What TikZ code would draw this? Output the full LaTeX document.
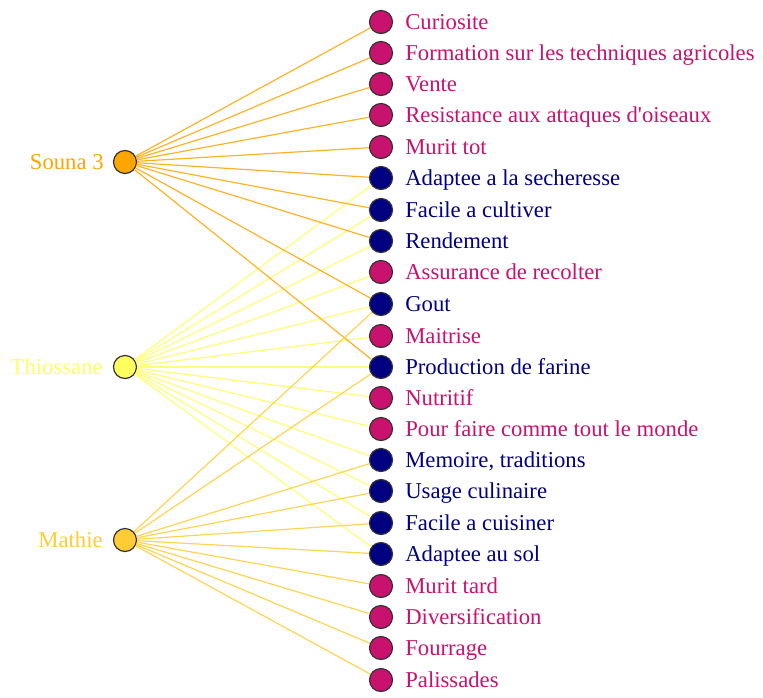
\documentclass[tikz,border=0pt]{standalone}
\usepackage{fontspec}
\setmainfont{Liberation Serif}
\usepackage{xcolor}
\usetikzlibrary{positioning}
\definecolor{sounacol}{HTML}{FFA500}
\definecolor{thiocol}{HTML}{FFFF5E}
\definecolor{mathcol}{HTML}{FFCC33}
\definecolor{rosecol}{HTML}{C8126E}
\definecolor{navycol}{HTML}{000080}
\tikzset{
	dot/.style={circle,draw=black!80,line width=1.2pt,minimum size=23pt,inner sep=0pt},
	rosenode/.style={dot,fill=rosecol},
	navynode/.style={dot,fill=navycol},
	lab/.style={inner sep=0pt,font=\fontsize{22.7}{27}\selectfont,text height=18pt,text depth=3pt},
	rosetext/.style={lab,text=rosecol},
	navytext/.style={lab,text=navycol},
	link/.style={line width=1.2pt,opacity=0.85}
}

\begin{document}
\begin{tikzpicture}[x=1pt,y=-1pt]
        \useasboundingbox (0,0) rectangle (763,697);
        % varietes
        \node[dot,fill=sounacol] (souna) at (125, 162) {};
        \node[dot,fill=thiocol] (thio) at (125, 367) {};
        \node[dot,fill=mathcol] (mathie) at (125, 540) {};
        \node[lab,text=sounacol,left=9pt of souna] (souna_t) {Souna 3};
        \node[lab,text=thiocol,left=10pt of thio] (thio_t) {Thiossane};
        \node[lab,text=mathcol,left=10pt of mathie] (mathie_t) {Mathie};
        % criteres
        \node[rosenode] (cur) at (381, 22) {};
        \node[rosenode] (form) at (381, 53) {};
        \node[rosenode] (vente) at (381, 84) {};
        \node[rosenode] (resist) at (381, 115) {};
        \node[rosenode] (murtot) at (381, 147) {};
        \node[navynode] (adsech) at (381, 178) {};
        \node[navynode] (faccult) at (381, 210) {};
        \node[navynode] (rend) at (381, 241) {};
        \node[rosenode] (assur) at (381, 272) {};
        \node[navynode] (gout) at (381, 304) {};
        \node[rosenode] (maitr) at (381, 336) {};
        \node[navynode] (farine) at (381, 367) {};
        \node[rosenode] (nutri) at (381, 398) {};
        \node[rosenode] (comme) at (381, 429) {};
        \node[navynode] (memo) at (381, 460) {};
        \node[navynode] (usage) at (381, 491) {};
        \node[navynode] (faccuis) at (381, 523) {};
        \node[navynode] (adsol) at (381, 554) {};
        \node[rosenode] (murtard) at (381, 586) {};
        \node[rosenode] (divers) at (381, 617) {};
        \node[rosenode] (fourr) at (381, 648) {};
        \node[rosenode] (paliss) at (381, 680) {};
        \node[rosetext,right=12pt of cur] (cur_t) {Curiosite};
        \node[rosetext,right=12pt of form] (form_t) {Formation sur les techniques agricoles};
        \node[rosetext,right=12pt of vente] (vente_t) {Vente};
        \node[rosetext,right=12pt of resist] (resist_t) {Resistance aux attaques d\textquotesingle oiseaux};
        \node[rosetext,right=12pt of murtot] (murtot_t) {Murit tot};
        \node[navytext,right=12pt of adsech] (adsech_t) {Adaptee a la secheresse};
        \node[navytext,right=12pt of faccult] (faccult_t) {Facile a cultiver};
        \node[navytext,right=12pt of rend] (rend_t) {Rendement};
        \node[rosetext,right=12pt of assur] (assur_t) {Assurance de recolter};
        \node[navytext,right=12pt of gout] (gout_t) {Gout};
        \node[rosetext,right=12pt of maitr] (maitr_t) {Maitrise};
        \node[navytext,right=12pt of farine] (farine_t) {Production de farine};
        \node[rosetext,right=12pt of nutri] (nutri_t) {Nutritif};
        \node[rosetext,right=12pt of comme] (comme_t) {Pour faire comme tout le monde};
        \node[navytext,right=12pt of memo] (memo_t) {Memoire, traditions};
        \node[navytext,right=12pt of usage] (usage_t) {Usage culinaire};
        \node[navytext,right=12pt of faccuis] (faccuis_t) {Facile a cuisiner};
        \node[navytext,right=12pt of adsol] (adsol_t) {Adaptee au sol};
        \node[rosetext,right=12pt of murtard] (murtard_t) {Murit tard};
        \node[rosetext,right=12pt of divers] (divers_t) {Diversification};
        \node[rosetext,right=12pt of fourr] (fourr_t) {Fourrage};
        \node[rosetext,right=12pt of paliss] (paliss_t) {Palissades};
        % liens Thiossane
        \draw[link,thiocol] (thio) -- (adsech);
        \draw[link,thiocol] (thio) -- (faccult);
        \draw[link,thiocol] (thio) -- (rend);
        \draw[link,thiocol] (thio) -- (assur);
        \draw[link,thiocol] (thio) -- (gout);
        \draw[link,thiocol] (thio) -- (maitr);
        \draw[link,thiocol] (thio) -- (farine);
        \draw[link,thiocol] (thio) -- (nutri);
        \draw[link,thiocol] (thio) -- (comme);
        \draw[link,thiocol] (thio) -- (memo);
        \draw[link,thiocol] (thio) -- (usage);
        \draw[link,thiocol] (thio) -- (faccuis);
        \draw[link,thiocol] (thio) -- (adsol);
        % liens Souna 3
        \draw[link,sounacol] (souna) -- (cur);
        \draw[link,sounacol] (souna) -- (form);
        \draw[link,sounacol] (souna) -- (vente);
        \draw[link,sounacol] (souna) -- (resist);
        \draw[link,sounacol] (souna) -- (murtot);
        \draw[link,sounacol] (souna) -- (adsech);
        \draw[link,sounacol] (souna) -- (faccult);
        \draw[link,sounacol] (souna) -- (rend);
        \draw[link,sounacol] (souna) -- (gout);
        \draw[link,sounacol] (souna) -- (farine);
        % liens Mathie
        \draw[link,mathcol] (mathie) -- (gout);
        \draw[link,mathcol] (mathie) -- (farine);
        \draw[link,mathcol] (mathie) -- (memo);
        \draw[link,mathcol] (mathie) -- (usage);
        \draw[link,mathcol] (mathie) -- (faccuis);
        \draw[link,mathcol] (mathie) -- (adsol);
        \draw[link,mathcol] (mathie) -- (murtard);
        \draw[link,mathcol] (mathie) -- (divers);
        \draw[link,mathcol] (mathie) -- (fourr);
        \draw[link,mathcol] (mathie) -- (paliss);
    \end{tikzpicture}
\end{document}
